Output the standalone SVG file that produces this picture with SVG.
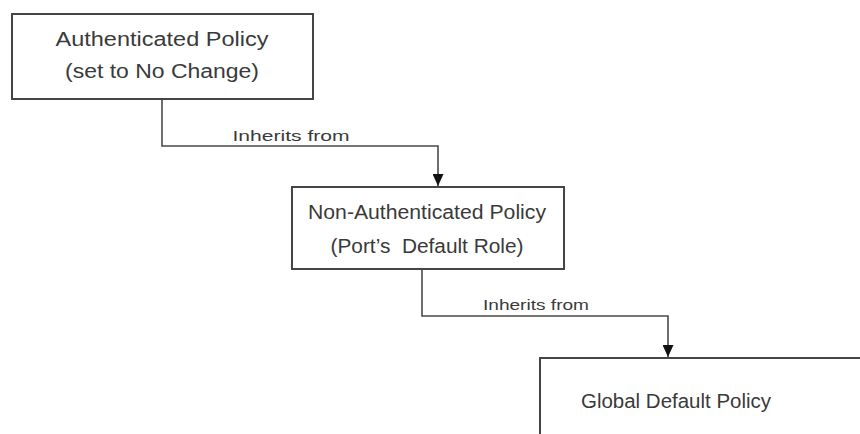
<svg xmlns="http://www.w3.org/2000/svg" width="860" height="434" viewBox="0 0 860 434">
<defs>
<style>
.box{fill:#fff;stroke:#454545;stroke-width:2}
.t{font-family:"Liberation Sans",Arial,sans-serif;font-size:20px;fill:#3a3a3a;text-anchor:middle;white-space:pre}
.lbl{font-family:"Liberation Sans",Arial,sans-serif;font-size:15px;fill:#3a3a3a;text-anchor:middle}
.c{fill:none;stroke:#4a4a4a;stroke-width:1.6}
</style>
<marker id="arr" viewBox="0 0 12 11" refX="12" refY="5.5" markerWidth="12" markerHeight="11" markerUnits="userSpaceOnUse" orient="auto">
<path d="M0,0 L12,5.5 L0,11 Z" fill="#111"/>
</marker>
</defs>
<rect width="860" height="434" fill="#fff"/>
<g id="connectors">
<path class="c" d="M162,99 V146 H438 V186" marker-end="url(#arr)"/>
<text class="lbl" x="291" y="141" textLength="117" lengthAdjust="spacingAndGlyphs">Inherits from</text>
<path class="c" d="M422,269 V316 H668 V357" marker-end="url(#arr)"/>
<text class="lbl" x="536" y="310" textLength="106" lengthAdjust="spacingAndGlyphs">Inherits from</text>
</g>
<g id="n1">
<rect class="box" x="12" y="14" width="301" height="85"/>
<text class="t" x="162" y="46" textLength="213" lengthAdjust="spacingAndGlyphs">Authenticated Policy</text>
<text class="t" x="162" y="78" textLength="194" lengthAdjust="spacingAndGlyphs">(set to No Change)</text>
</g>
<g id="n2">
<rect class="box" x="292" y="187" width="272" height="82"/>
<text class="t" x="427" y="219" textLength="238" lengthAdjust="spacingAndGlyphs">Non-Authenticated Policy</text>
<text class="t" x="427" y="253" textLength="193" lengthAdjust="spacingAndGlyphs" xml:space="preserve">(Port’s  Default Role)</text>
</g>
<g id="n3">
<rect class="box" x="540" y="358" width="340" height="100"/>
<text class="t" x="676" y="408" textLength="190" lengthAdjust="spacingAndGlyphs">Global Default Policy</text>
</g>
</svg>
